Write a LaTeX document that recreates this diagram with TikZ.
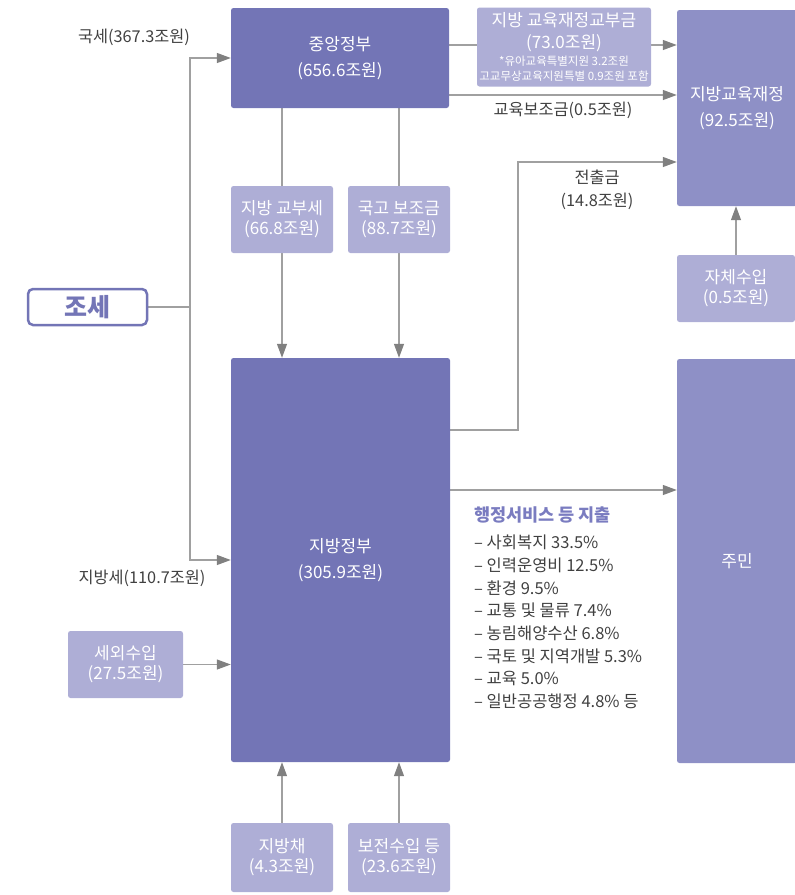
\documentclass[tikz,border=0pt]{standalone}
\usepackage{fontspec}
\setmainfont{Noto Sans CJK KR}
\usetikzlibrary{arrows.meta, backgrounds}
\definecolor{darkbox}{HTML}{7375B6}
\definecolor{midbox}{HTML}{8E90C6}
\definecolor{lightbox}{HTML}{AEAED6}
\definecolor{linegray}{HTML}{A0A0A0}
\definecolor{tipgray}{HTML}{808080}
\definecolor{titlepurple}{HTML}{7A7CC0}

\begin{document}
\begin{tikzpicture}[x=1pt, y=-1pt,
    mybox/.style={rectangle, rounded corners=2.5pt, inner sep=0pt, align=center, text=white,
    font=\fontsize{17}{26}\selectfont},
    govbox/.style={mybox, fill=darkbox},
    edubox/.style={mybox, fill=midbox},
    srcbox/.style={mybox, fill=lightbox, minimum width=102pt, minimum height=67pt},
    flow/.style={draw=linegray, line width=1.2pt, -{Triangle[length=14pt, width=10pt, fill=tipgray, color=tipgray]}},
    plainline/.style={draw=linegray, line width=1.2pt},
    lbl/.style={text=black!75, align=center, inner sep=0pt, font=\fontsize{16.3}{23}\selectfont}]
    \useasboundingbox (0,0) rectangle (795,895);
    \node[govbox, minimum width=218pt, minimum height=100pt] (jungang) at (340,58) {중앙정부\\(656.6조원)};
    \node[govbox, minimum width=219pt, minimum height=404pt] (jibang) at (340.5,560) {지방정부\\(305.9조원)};
    \node[edubox, minimum width=120pt, minimum height=196pt] (edufin) at (737,108) {지방교육재정\\(92.5조원)};
    \node[edubox, minimum width=120pt, minimum height=404pt] (jumin) at (737,561) {주민};
    \node[mybox, fill=lightbox, minimum width=174pt, minimum height=79pt, font=\fontsize{17}{22}\selectfont] (edugrant) at (564,47)
    {지방 교육재정교부금\\(73.0조원)\\[-5pt]{\fontsize{11.5}{14}\selectfont *유아교육특별지원 3.2조원}\\[-7pt]
    {\fontsize{11.5}{14}\selectfont 고교무상교육지원특별 0.9조원 포함}};
    \node[srcbox] (gyobuse) at (282,219.5) {지방 교부세\\[-6pt](66.8조원)};
    \node[srcbox] (gukgo) at (399,219.5) {국고 보조금\\[-6pt](88.7조원)};
    \node[srcbox, minimum width=118pt] (jache) at (736,288.5) {자체수입\\[-6pt](0.5조원)};
    \node[srcbox, minimum width=115pt] (sewoe) at (125.5,664.5) {세외수입\\[-6pt](27.5조원)};
    \node[srcbox, minimum height=69pt] (jibangchae) at (282,857.5) {지방채\\[-6pt](4.3조원)};
    \node[srcbox, minimum height=69pt] (bojeon) at (399,857.5) {보전수입 등\\[-6pt](23.6조원)};
    \node[rectangle, rounded corners=5pt, draw=darkbox, line width=2.5pt, fill=white, text=darkbox,
    minimum width=119pt, minimum height=36pt, inner sep=0pt, font=\fontsize{25}{25}\selectfont\bfseries] (joseh) at (87.5,307) {조세};
    % connectors behind the boxes
    \begin{scope}[on background layer]
    \coordinate (split) at (190,307);
    \coordinate (bend) at (518,162);
    \draw[plainline] (joseh.east) -- (split);
    \draw[flow] (split) |- (jungang.west);
    \draw[flow] (split) |- (jibang.west);
    \draw[flow] ([yshift=13pt]jungang.east) -- ([yshift=13pt]jungang.east -| edufin.west);
    \draw[flow] ([yshift=-37pt]jungang.east) -- ([yshift=-37pt]jungang.east -| edufin.west);
    \draw[flow] (gyobuse.center |- jungang.south) -- (gyobuse.center |- jibang.north);
    \draw[flow] (gukgo.center |- jungang.south) -- (gukgo.center |- jibang.north);
    \draw[flow] ([yshift=130pt]jibang.east) -| (bend) -- (edufin.west |- bend);
    \draw[flow] (jache.north) -- (jache.north |- edufin.south);
    \draw[flow] ([yshift=70pt]jibang.east) -- ([yshift=70pt]jibang.east -| jumin.west);
    \draw[flow] (sewoe.east) -- (jibang.west |- sewoe.east);
    \draw[flow] (jibangchae.north) -- (jibangchae.north |- jibang.south);
    \draw[flow] (bojeon.north) -- (bojeon.north |- jibang.south);
    \end{scope}
    % labels on the flows
    \node[lbl] (gukse) at (134,37) {국세(367.3조원)};
    \node[lbl] (jibangse) at (142,578) {지방세(110.7조원)};
    \node[lbl] (eduaid) at (563,110) {교육보조금(0.5조원)};
    \node[lbl] (jeonchul) at (597,190) {전출금\\(14.8조원)};
    \node[anchor=north west, align=left, inner sep=0pt, text=black!75, font=\fontsize{16.5}{22.7}\selectfont] (spend) at (474,507)
    {\textcolor{titlepurple}{\fontsize{17.5}{22.7}\selectfont\bfseries 행정서비스 등 지출}\\[4pt]
    – 사회복지 33.5\%\\
    – 인력운영비 12.5\%\\
    – 환경 9.5\%\\
    – 교통 및 물류 7.4\%\\
    – 농림해양수산 6.8\%\\
    – 국토 및 지역개발 5.3\%\\
    – 교육 5.0\%\\
    – 일반공공행정 4.8\% 등};
\end{tikzpicture}
\end{document}
